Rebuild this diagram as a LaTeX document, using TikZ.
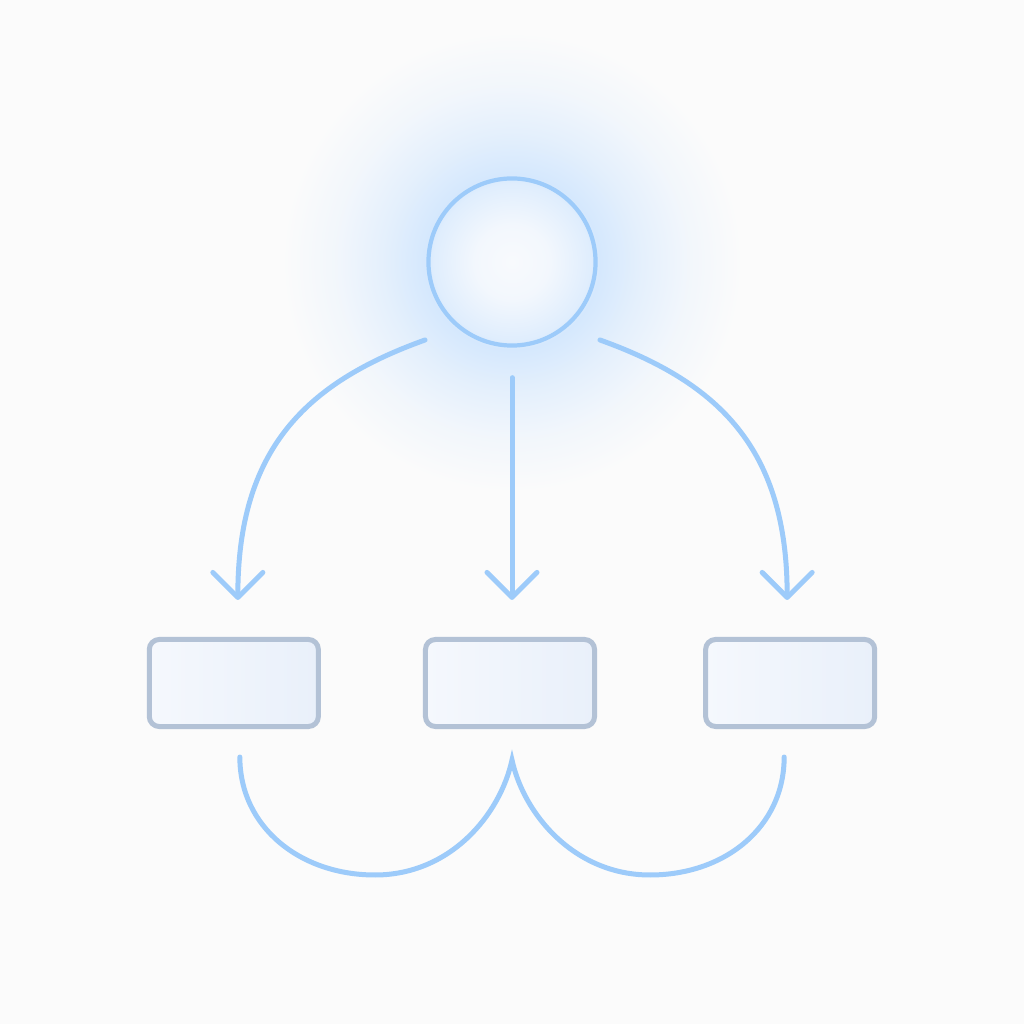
\documentclass[tikz,border=0pt]{standalone}
\usepackage{tikz}
\usetikzlibrary{arrows.meta,positioning}

\definecolor{bg}{HTML}{FBFBFB}
\definecolor{flowblue}{HTML}{9DCBFA}
\definecolor{glowblue}{HTML}{D5E8FD}
\definecolor{hubcore}{HTML}{F8FAFD}
\definecolor{stageline}{HTML}{B3C2D6}
\definecolor{stagefillA}{HTML}{F5F8FD}
\definecolor{stagefillB}{HTML}{E9F0FA}

% soft halo behind the hub
\pgfdeclareradialshading{hubglow}{\pgfpoint{0bp}{0bp}}{color(0bp)=(hubcore); color(4bp)=(hubcore!85!glowblue); color(8.5bp)=(glowblue!70!hubcore); color(9.5bp)=(glowblue); color(14bp)=(glowblue!60!bg); color(19bp)=(glowblue!25!bg); color(25bp)=(bg); color(50bp)=(bg)}

\begin{document}
\begin{tikzpicture}
[x=0.01cm, y=0.01cm,
% STYLES
% The hub style is used for the source circle
hubnode/.style={circle, draw=flowblue, line width=0.042cm, minimum size=1.67cm, inner sep=0pt},
% The stage style is used for the three boxes
stage/.style={rectangle, rounded corners=0.1cm, draw=stageline, line width=0.05cm, left color=stagefillA, right color=stagefillB, minimum width=1.69cm, minimum height=0.87cm, inner sep=0pt},
% The flow style is used for the arrows going down
flow/.style={draw=flowblue, line width=0.05cm, line cap=round, -{Straight Barb[length=0.25cm, width=0.5cm, round]}},
% The link style is used for the swings under the boxes
link/.style={draw=flowblue, line width=0.05cm, line cap=round}]

\useasboundingbox (0,0) rectangle (1024,1024);
\fill[bg] (0,0) rectangle (1024,1024);

% Draw hub
\shade[shading=hubglow] (512,762) circle [radius=2.3cm];
\node [hubnode] (hub) at (512,762) {};

% Draw stages
\node [stage] (boxm) at (510,341) {};
\node [stage, left=1.02cm of boxm] (boxl) {};
\node [stage, right=1.06cm of boxm] (boxr) {};

%%%%%%%%%%%%%%%
% free ends

\coordinate (hub-l) at ([shift={(-87,-78)}]hub.center);
\coordinate (hub-r) at ([shift={(88,-78)}]hub.center);
\coordinate (l-top) at ([shift={(6,-28)}]boxl.south);
\coordinate (r-top) at ([shift={(-6,-28)}]boxr.south);
\coordinate (cusp) at ([shift={(2,-31)}]boxm.south);

%%%%%%%%%%%%%%%

% Draw the links from the hub to the stages
\draw[flow, shorten >=0.37cm] (hub-l) .. controls +(-120,-43) and +(0,187) .. ([xshift=0.04cm]boxl.north);
\draw[flow, shorten <=0.3cm, shorten >=0.37cm] (hub.south) -- (hub.south |- boxm.north);
\draw[flow, shorten >=0.37cm] (hub-r) .. controls +(120,-43) and +(0,187) .. ([xshift=-0.03cm]boxr.north);

% Draw the swings under the stages
\draw[link] (l-top) .. controls +(0,-70) and +(-75,0) .. (375,149)
  .. controls +(75,0) and +(-12,-55) .. (cusp)
  .. controls +(12,-55) and +(-75,0) .. (650,149)
  .. controls +(75,0) and +(0,-70) .. (r-top);

\end{tikzpicture}
\end{document}
